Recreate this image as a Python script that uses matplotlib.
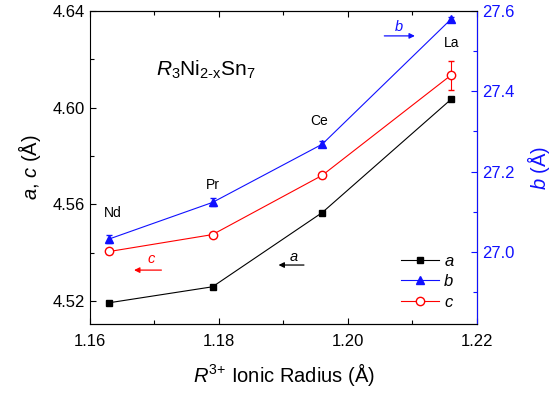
import matplotlib
matplotlib.use("Agg")
import matplotlib.pyplot as plt
from matplotlib.lines import Line2D

plt.rcParams['font.family'] = ['Liberation Sans', 'DejaVu Sans']
plt.rcParams['mathtext.fontset'] = 'custom'
plt.rcParams['mathtext.rm'] = 'Liberation Sans'
plt.rcParams['mathtext.it'] = 'Liberation Sans:italic'

# ionic radius of R3+ (Nd, Pr, Ce, La)
radius = [1.163, 1.179, 1.196, 1.216]
elements = ['Nd', 'Pr', 'Ce', 'La']
a_val = [4.5193, 4.5259, 4.5566, 4.6035]
a_err = [0.0009, 0.0008, 0.0008, 0.0008]
c_val = [4.5405, 4.5475, 4.5720, 4.6135]
c_err = [0.0010, 0.0010, 0.0009, 0.0060]
b_val = [27.032, 27.123, 27.268, 27.580]
b_err = [0.010, 0.010, 0.008, 0.004]

blue = '#1010ff'

fig = plt.figure(figsize=(5.53, 3.96), dpi=100)
ax = fig.add_axes([90/553, 1-324/396, 387/553, 313/396])
ax2 = ax.twinx()

ax.errorbar(radius, a_val, yerr=a_err, color='black', marker='s', ms=5,
            lw=0.8, capsize=2.5, elinewidth=0.8)
ax.errorbar(radius, c_val, yerr=c_err, color='red', marker='o', ms=6,
            mfc='white', mec='red', lw=0.8, capsize=2.5, elinewidth=0.8)
ax2.errorbar(radius, b_val, yerr=b_err, color=blue, marker='^', ms=6,
             lw=0.8, capsize=2.5, elinewidth=0.8)

ax.set_xlim(1.16, 1.22)
ax.set_ylim(4.5105, 4.64)
ax2.set_ylim(26.82, 27.6)

ax.set_xticks([1.16, 1.18, 1.20, 1.22])
ax.set_xticklabels(['1.16', '1.18', '1.20', '1.22'])
ax.set_xticks([1.17, 1.19, 1.21], minor=True)
ax.set_yticks([4.52, 4.56, 4.60, 4.64])
ax.set_yticklabels(['4.52', '4.56', '4.60', '4.64'])
ax.set_yticks([4.54, 4.58, 4.62], minor=True)
ax2.set_yticks([27.0, 27.2, 27.4, 27.6])
ax2.set_yticklabels(['27.0', '27.2', '27.4', '27.6'])
ax2.set_yticks([26.9, 27.1, 27.3, 27.5], minor=True)

ax.tick_params(which='both', direction='in', labelsize=12, top=True, right=False, width=0.8)
ax.tick_params(axis='x', which='both', pad=7)
ax.tick_params(which='major', length=4.5)
ax.tick_params(which='minor', length=3)
ax2.tick_params(which='both', direction='in', labelsize=12, colors=blue, width=0.8)
ax2.tick_params(which='major', length=4.5)
ax2.tick_params(which='minor', length=3)
for s in ax.spines.values():
    s.set_linewidth(0.8)
ax2.spines['right'].set_color(blue)
ax2.spines['right'].set_linewidth(0.8)
ax2.spines['left'].set_visible(False)

ax.set_xlabel(r'$R^{3{+}}$ Ionic Radius (Å)', fontsize=14.5, labelpad=9)
ax.set_ylabel(r'$a$, $c$ (Å)', fontsize=14.5, labelpad=7)
ax2.set_ylabel(r'$b$ (Å)', fontsize=14.5, color=blue, labelpad=8)

# element labels
lab_pos = [(1.1636, 4.5564), (1.179, 4.568), (1.1956, 4.5945), (1.2161, 4.6268)]
for el, (xx, yy) in zip(elements, lab_pos):
    ax.text(xx, yy, el, fontsize=10, ha='center', va='center')

ax.text(1.178, 4.6156, r'$R_3\mathrm{Ni}_{\mathrm{2\text{-}x}}\mathrm{Sn}_7$',
        fontsize=15, ha='center', va='center')

# axis arrows
arr = dict(arrowstyle='-|>', lw=0.9, mutation_scale=8)
ax.annotate('', xy=(1.1664, 4.5328), xytext=(1.1715, 4.5328),
            arrowprops=dict(arr, color='red'))
ax.text(1.1695, 4.5372, 'c', color='red', style='italic', fontsize=10.5, ha='center', va='center')
ax.annotate('', xy=(1.1888, 4.5349), xytext=(1.1936, 4.5349),
            arrowprops=dict(arr, color='black'))
ax.text(1.1916, 4.5384, 'a', style='italic', fontsize=10.5, ha='center', va='center')
ax.annotate('', xy=(1.2108, 4.6297), xytext=(1.2052, 4.6297),
            arrowprops=dict(arr, color=blue))
ax.text(1.2079, 4.6334, 'b', color=blue, style='italic', fontsize=10.5, ha='center', va='center')

handles = [
    Line2D([], [], color='black', marker='s', ms=5, lw=0.8),
    Line2D([], [], color=blue, marker='^', ms=6, lw=0.8),
    Line2D([], [], color='red', marker='o', ms=6, mfc='white', lw=0.8),
]
ax2.legend(handles, ['a', 'b', 'c'], loc='lower right', bbox_to_anchor=(0.978, -0.002),
           frameon=False, prop={'style': 'italic', 'size': 12}, handlelength=2.3,
           handletextpad=0.3, labelspacing=0.33)

fig.savefig('out.png', dpi=100)
